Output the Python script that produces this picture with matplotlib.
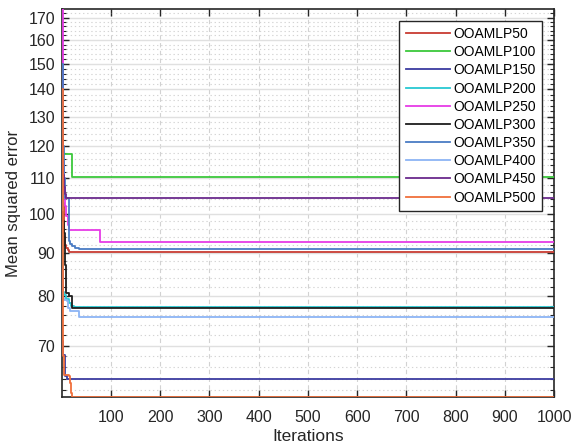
import matplotlib
matplotlib.use("Agg")
import matplotlib.pyplot as plt
from matplotlib.ticker import FixedLocator, NullFormatter, FuncFormatter

plt.rcParams['font.family'] = ['Liberation Sans', 'DejaVu Sans']

# Best-so-far mean squared error of each model, stored as (iteration, value)
# breakpoints; the value holds until the next breakpoint.
it_50 = [1, 2, 3, 4, 5, 6, 8, 10, 13, 16, 1000]
mse_50 = [140, 124, 112, 103, 97, 94, 92, 91.2, 90.6, 90.2, 90.2]

it_100 = [1, 2, 3, 4, 21, 1000]
mse_100 = [131, 125, 120, 117.6, 110.4, 110.4]

it_150 = [1, 2, 7, 12, 1000]
mse_150 = [70.8, 68.3, 64.5, 63.9, 63.9]

it_200 = [1, 2, 3, 4, 6, 10, 15, 20, 25, 1000]
mse_200 = [130, 108, 92, 81, 80.2, 79.3, 78.5, 78.0, 77.7, 77.7]

it_250 = [1, 2, 3, 4, 6, 8, 10, 13, 16, 78, 1000]
mse_250 = [174, 148, 128, 115, 106, 102, 99.5, 97, 95.7, 92.6, 92.6]

it_300 = [1, 3, 5, 7, 8, 9, 16, 22, 1000]
mse_300 = [100.5, 98, 95, 91, 87, 80.6, 80.1, 77.5, 77.5]

it_350 = [1, 2, 3, 4, 6, 8, 14, 15, 18, 22, 28, 35, 1000]
mse_350 = [150, 138, 128, 120, 110, 104.4, 104.3, 93, 92.2, 91.6, 91.2, 91.0, 91.0]

it_400 = [1, 2, 3, 6, 12, 14, 18, 35, 1000]
mse_400 = [86, 80.3, 79.6, 79.2, 78.9, 77.4, 76.8, 75.6, 75.6]

it_450 = [1, 2, 3, 4, 6, 8, 10, 1000]
mse_450 = [122, 118, 114, 111, 107.5, 105.5, 104.4, 104.4]

it_500 = [1, 2, 3, 4, 5, 16, 18, 19, 20, 21, 1000]
mse_500 = [140, 105, 80, 68, 64.6, 64.4, 63.2, 62.3, 61.5, 60.9, 60.9]

labels = ['OOAMLP50', 'OOAMLP100', 'OOAMLP150', 'OOAMLP200', 'OOAMLP250',
          'OOAMLP300', 'OOAMLP350', 'OOAMLP400', 'OOAMLP450', 'OOAMLP500']
iterations = [it_50, it_100, it_150, it_200, it_250,
              it_300, it_350, it_400, it_450, it_500]
errors = [mse_50, mse_100, mse_150, mse_200, mse_250,
          mse_300, mse_350, mse_400, mse_450, mse_500]
colors = ['#c83c32', '#3cc83c', '#3c3ca0', '#28c8d2', '#e63ce6',
          '#1e1e1e', '#4a7cc4', '#8cb4f5', '#6a2a8c', '#f0703c']

major_y = [70, 80, 90, 100, 110, 120, 130, 140, 150, 160, 170]
x_ticks = [100, 200, 300, 400, 500, 600, 700, 800, 900, 1000]

fig = plt.figure(figsize=(5.71, 4.48), dpi=100)
ax = fig.add_axes([0.1086, 0.1138, 0.8618, 0.8662])

for it, mse, c, lab in zip(iterations, errors, colors, labels):
    ax.step(it, mse, where='post', color=c, lw=1.3, label=lab, zorder=3)

ax.set_yscale('log')
ymin = min(min(m) for m in errors)
ymax = max(max(m) for m in errors)
ax.set_ylim(ymin, ymax)
ax.set_xlim(1, 1000)

ax.yaxis.set_major_locator(FixedLocator(major_y))
ax.yaxis.set_major_formatter(FuncFormatter(lambda v, p: f'{v:g}'))
minor_y = [v for v in range(62, 174, 2) if v % 10 != 0]
ax.yaxis.set_minor_locator(FixedLocator(minor_y))
ax.yaxis.set_minor_formatter(NullFormatter())
ax.xaxis.set_major_locator(FixedLocator(x_ticks))

# grid: solid major horizontals, dotted minor horizontals, dashed verticals
ax.grid(True, which='major', axis='y', color='#e0e0e0', lw=1.0, ls='-')
ax.grid(True, which='minor', axis='y', color='#d4d4d4', lw=0.8, ls=(0, (1.2, 2.5)))
ax.grid(True, which='major', axis='x', color='#d2d2d2', lw=0.8, ls=(0, (4, 3)))
ax.set_axisbelow(True)

for s in ax.spines.values():
    s.set_color('#262626')
    s.set_linewidth(1.2)

ax.tick_params(which='both', direction='in', top=True, right=True,
               colors='#262626', labelsize=11.5)
ax.tick_params(which='major', length=5, width=1.0)
ax.tick_params(which='minor', length=3, width=0.8)
ax.tick_params(axis='x', which='major', pad=9)
ax.tick_params(axis='y', which='major', pad=5)

ax.set_xlabel('Iterations', fontsize=12.5, color='#262626', labelpad=3)
ax.set_ylabel('Mean squared error', fontsize=12, color='#262626', labelpad=5)

leg = ax.legend(loc='upper right', fontsize=10, frameon=True, fancybox=False,
                edgecolor='#262626', framealpha=1, handlelength=3.2,
                handletextpad=0.25, labelspacing=0.3, borderpad=0.45,
                borderaxespad=0.85)
leg.set_zorder(5)
leg.get_frame().set_linewidth(1.0)

fig.savefig('out.png', dpi=100)
